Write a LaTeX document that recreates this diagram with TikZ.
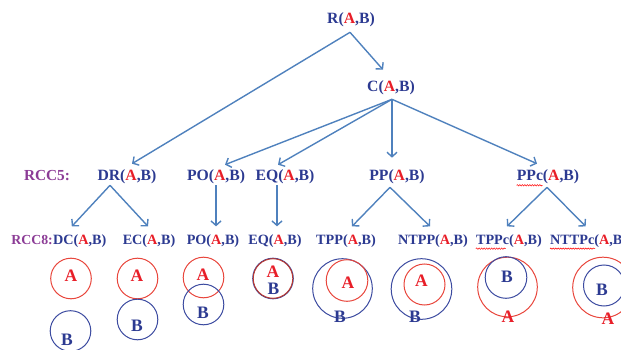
\documentclass[tikz,border=0pt]{standalone}
\usepackage{fontspec}
\setmainfont{Liberation Serif}
\usetikzlibrary{arrows.meta,decorations.pathmorphing}
\definecolor{tblue}{RGB}{44,58,145}
\definecolor{tred}{RGB}{232,30,40}
\definecolor{tpurple}{RGB}{140,60,150}
\definecolor{arrowc}{RGB}{79,129,189}
\definecolor{cred}{RGB}{232,70,60}
\definecolor{cblue}{RGB}{60,75,160}
\newcommand{\relab}[1]{#1(\textcolor{tred}{A},B)}
\begin{document}
\begin{tikzpicture}[x=1pt,y=-1pt,
  lab/.style={inner sep=0pt, text=tblue, font=\fontsize{15.7}{18}\selectfont\bfseries},
  lab2/.style={inner sep=0pt, text=tblue, font=\fontsize{14.2}{17}\selectfont\bfseries},
  rcc/.style={inner sep=0pt, text=tpurple, font=\fontsize{15.3}{18}\selectfont\bfseries},
  rcc2/.style={inner sep=0pt, text=tpurple, font=\fontsize{13.8}{17}\selectfont\bfseries},
  link/.style={draw=arrowc, line width=1.4pt, -{Straight Barb[length=4.5pt,width=10pt]}},
  ca/.style={draw=cred, line width=1pt},
  cb/.style={draw=cblue, line width=1pt},
  la/.style={inner sep=0pt, text=tred, font=\fontsize{17.5}{20}\selectfont\bfseries},
  lb/.style={inner sep=0pt, text=tblue, font=\fontsize{17.5}{20}\selectfont\bfseries},
  wavy/.style={draw=red, line width=0.5pt, decorate, decoration={snake, amplitude=0.7pt, segment length=2.5pt}}]
\useasboundingbox (0,0) rectangle (621,350);
% top
\node[lab] (R) at (351,20) {\relab{R}};
\node[lab] (C) at (391,88) {\relab{C}};
% RCC5 row
\node[lab] (DR) at (127,177) {\relab{DR}};
\node[lab] (PO) at (216,177) {\relab{PO}};
\node[lab] (EQ) at (285,177) {\relab{EQ}};
\node[lab] (PP) at (397,177) {\relab{PP}};
\node[lab] (PPc) at (548,177) {\relab{PPc}};
\path (DR.base) ++(-80,0) node[rcc, anchor=base] (rcc5) {RCC5:};
% RCC8 row
\node[lab2, anchor=west] (DC) at (53,241) {\relab{DC}};
\node[rcc2, anchor=base east] (rcc8) at (DC.base west) {RCC8:};
\node[lab2] (EC) at (149,241) {\relab{EC}};
\node[lab2] (PO2) at (213,241) {\relab{PO}};
\node[lab2] (EQ2) at (275,241) {\relab{EQ}};
\node[lab2] (TPP) at (346,241) {\relab{TPP}};
\node[lab2] (NTPP) at (433,241) {\relab{NTPP}};
\node[lab2] (TPPc) at (509,241) {\relab{TPPc}};
\node[lab2, anchor=west] (NTTPc) at (550,241) {\relab{NTTPc}};
% wavy underlines
\draw[wavy] ([yshift=-1pt]PPc.south west) -- ++(26,0);
\draw[wavy] ([yshift=-1pt]TPPc.south west) -- ++(30,0);
\draw[wavy] ([yshift=-1pt]NTTPc.south west) -- ++(45,0);
% connectors
\draw[link] ([xshift=-1pt,yshift=-5pt]R.south) -- ([xshift=-8pt,yshift=11pt]C.north);
\draw[link] ([xshift=-1pt,yshift=-5pt]R.south) -- ([xshift=5pt,yshift=6pt]DR.north);
\draw[link] ([xshift=1pt,yshift=-4pt]C.south) -- ([xshift=9pt,yshift=5pt]PO.north);
\draw[link] ([xshift=1pt,yshift=-4pt]C.south) -- ([xshift=-7pt,yshift=5pt]EQ.north);
\draw[link] ([xshift=1pt,yshift=-4pt]C.south) -- ([xshift=-5pt,yshift=12pt]PP.north);
\draw[link] ([xshift=1pt,yshift=-4pt]C.south) -- ([xshift=-11pt,yshift=6pt]PPc.north);
\draw[link] ([xshift=-17pt,yshift=-1pt]DR.south) -- ([xshift=-8pt,yshift=8pt]DC.north);
\draw[link] ([xshift=-17pt,yshift=-1pt]DR.south) -- ([xshift=-1pt,yshift=8pt]EC.north);
\draw[link] ([yshift=-1pt]PO.south) -- ([xshift=3pt,yshift=8pt]PO2.north);
\draw[link] ([xshift=-8pt,yshift=-1pt]EQ.south) -- ([xshift=2pt,yshift=8pt]EQ2.north);
\draw[link] ([xshift=-7pt,yshift=-3pt]PP.south) -- ([xshift=6pt,yshift=8pt]TPP.north);
\draw[link] ([xshift=-7pt,yshift=-3pt]PP.south) -- ([xshift=-3pt,yshift=8pt]NTPP.north);
\draw[link] ([xshift=-1pt,yshift=-3pt]PPc.south) -- ([xshift=-2pt,yshift=8pt]TPPc.north);
\draw[link] ([xshift=-1pt,yshift=-3pt]PPc.south) -- ([xshift=-3pt,yshift=8pt]NTTPc.north);
% DC
\draw[ca] (71,278.5) circle (20.3);
\draw[cb] (70.5,331) circle (20.3);
\node[la] (dcA) at (71,275.5) {A};
\node[lb] (dcB) at (67,340) {B};
% EC
\draw[ca] (137.5,278.5) circle (20.3);
\draw[cb] (137.5,319.5) circle (20.3);
\node[la] (ecA) at (137,276) {A};
\node[lb] (ecB) at (137,326) {B};
% PO
\draw[ca] (203.5,277.5) circle (20.3);
\draw[cb] (203.5,304.5) circle (20.3);
\node[la] (poA) at (203,275) {A};
\node[lb] (poB) at (203,313) {B};
% EQ
\draw[cb] (273,278.5) circle (20.3);
\draw[draw=cred!80!black, line width=1pt] (273,278.5) circle (19.8);
\node[la] (eqA) at (273,272) {A};
\node[lb] (eqB) at (273.5,288.5) {B};
% TPP
\draw[cb] (342.5,288.5) circle (29.8);
\draw[ca] (347,280.5) circle (20.8);
\node[la] (tppA) at (348,283) {A};
\node[lb] (tppB) at (340,317) {B};
% NTPP
\draw[cb] (421.5,289) circle (30.3);
\draw[ca] (424.5,284.5) circle (20.5);
\node[la] (ntppA) at (421.5,281) {A};
\node[lb] (ntppB) at (415,317) {B};
% TPPc
\draw[ca] (507.5,287) circle (29.8);
\draw[cb] (506,277.5) circle (20.8);
\node[lb] (tppcB) at (507,277) {B};
\node[la] (tppcA) at (508,317) {A};
% NTTPc
\draw[ca] (603,287.5) circle (30.3);
\draw[cb] (604,285.5) circle (20.5);
\node[lb] (nttpcB) at (602,289.5) {B};
\node[la] (nttpcA) at (608,319) {A};
\end{tikzpicture}
\end{document}
